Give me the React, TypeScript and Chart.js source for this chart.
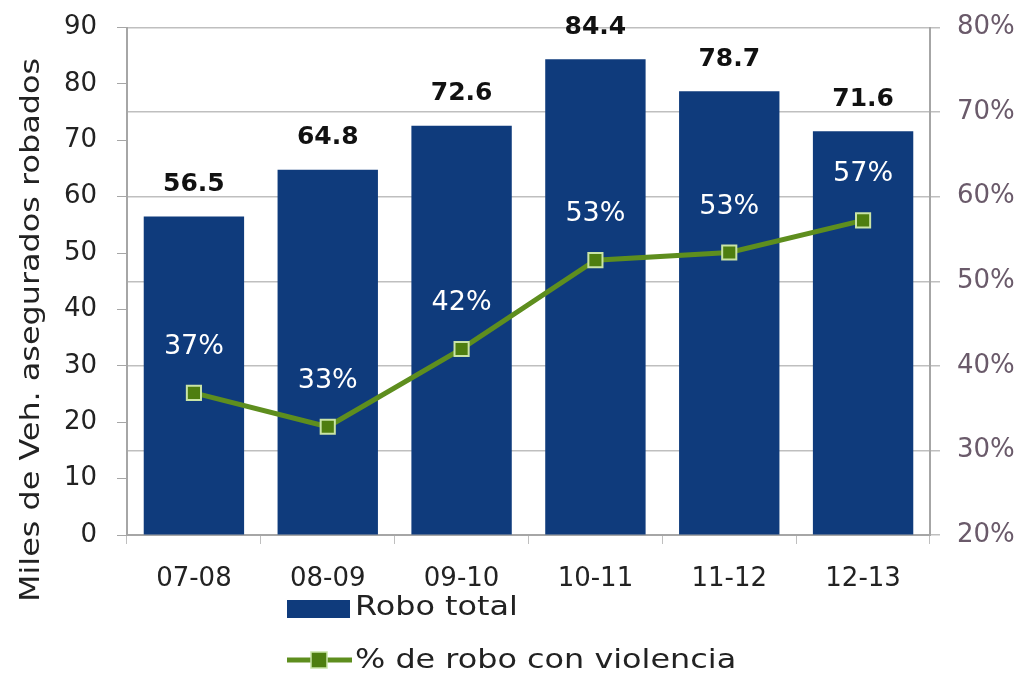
import React, { useEffect, useRef } from "react";
import { Chart, registerables } from "chart.js";

Chart.register(...registerables);

const categories = ["07-08", "08-09", "09-10", "10-11", "11-12", "12-13"];
const roboTotal = [56.5, 64.8, 72.6, 84.4, 78.7, 71.6];
const roboTotalLabels = ["56.5", "64.8", "72.6", "84.4", "78.7", "71.6"];
const pctViolencia = [36.8, 32.8, 42.0, 52.5, 53.4, 57.2];
const pctLabels = ["37%", "33%", "42%", "53%", "53%", "57%"];
const leftTicks = [0, 10, 20, 30, 40, 50, 60, 70, 80, 90];
const rightTicks = [20, 30, 40, 50, 60, 70, 80];

const FONT = "'DejaVu Sans', sans-serif";
const BAR_COLOR = "#0F3B7C";
const LINE_COLOR = "#5E8E1E";
const MARKER_FILL = "#4E7E10";
const MARKER_BORDER = "#C9E4A6";
const GRID = "#BFBFBF";
const STRETCH = 1.18;
const SHIFT = 8; // canvas is shifted up by this many px

function wideText(ctx: any, text: string, x: number, y: number, align: string) {
  ctx.save();
  ctx.translate(x, y);
  ctx.scale(STRETCH, 1);
  ctx.textAlign = align;
  ctx.fillText(text, 0, 0);
  ctx.restore();
}

const labelsPlugin = {
  id: "customLabels",
  afterDatasetsDraw(chart: any) {
    const ctx = chart.ctx;
    const barMeta = chart.getDatasetMeta(0);
    const lineMeta = chart.getDatasetMeta(1);
    ctx.save();
    ctx.textAlign = "center";
    ctx.textBaseline = "middle";
    ctx.font = `bold 25px ${FONT}`;
    ctx.fillStyle = "#111";
    barMeta.data.forEach((el: any, i: number) => {
      ctx.fillText(roboTotalLabels[i], el.x, el.y - 32);
    });
    ctx.font = `27px ${FONT}`;
    ctx.fillStyle = "#FFFFFF";
    lineMeta.data.forEach((el: any, i: number) => {
      ctx.fillText(pctLabels[i], el.x, el.y - 46);
    });
    ctx.restore();
  },
  afterDraw(chart: any) {
    const ctx = chart.ctx;
    ctx.save();
    // y axis title
    ctx.translate(32, 330 + SHIFT);
    ctx.rotate(-Math.PI / 2);
    ctx.textBaseline = "middle";
    ctx.font = `27px ${FONT}`;
    ctx.fillStyle = "#222";
    wideText(ctx, "Miles de Veh. asegurados robados", 0, 0, "center");
    ctx.restore();

    ctx.save();
    // legend row 1
    ctx.fillStyle = BAR_COLOR;
    ctx.fillRect(287, 600 + SHIFT, 63, 18);
    ctx.font = `27px ${FONT}`;
    ctx.fillStyle = "#222";
    ctx.textBaseline = "middle";
    wideText(ctx, chart.data.datasets[0].label, 355, 608 + SHIFT, "left");
    // legend row 2
    ctx.strokeStyle = LINE_COLOR;
    ctx.lineWidth = 5;
    ctx.beginPath();
    ctx.moveTo(287, 660 + SHIFT);
    ctx.lineTo(352, 660 + SHIFT);
    ctx.stroke();
    ctx.fillStyle = MARKER_FILL;
    ctx.fillRect(311, 652 + SHIFT, 16, 16);
    ctx.strokeStyle = MARKER_BORDER;
    ctx.lineWidth = 1.5;
    ctx.strokeRect(311, 652 + SHIFT, 16, 16);
    ctx.fillStyle = "#222";
    wideText(ctx, chart.data.datasets[1].label, 355, 661 + SHIFT, "left");
    ctx.restore();
  },
};

export default function App() {
  const ref = useRef<HTMLCanvasElement | null>(null);
  useEffect(() => {
    if (!ref.current) return;
    const chart = new Chart(ref.current, {
      type: "bar",
      data: {
        labels: categories,
        datasets: [
          {
            type: "bar",
            label: "Robo total",
            data: roboTotal,
            backgroundColor: BAR_COLOR,
            categoryPercentage: 0.75,
            barPercentage: 1,
            yAxisID: "y",
            order: 2,
          },
          {
            type: "line",
            label: "% de robo con violencia",
            data: pctViolencia,
            borderColor: LINE_COLOR,
            borderWidth: 5,
            pointStyle: "rect",
            pointRadius: 10,
            pointBackgroundColor: MARKER_FILL,
            pointBorderColor: MARKER_BORDER,
            pointBorderWidth: 2,
            tension: 0,
            yAxisID: "y1",
            order: 1,
          } as any,
        ],
      },
      options: {
        responsive: false,
        animation: false,
        layout: { autoPadding: false, padding: { top: 28, left: 0, right: 0, bottom: 0 } },
        plugins: {
          legend: { display: false },
          tooltip: { enabled: false },
        },
        scales: {
          x: {
            grid: {
              offset: true,
              drawOnChartArea: false,
              drawTicks: true,
              tickLength: 9,
              color: GRID,
            },
            border: { display: true, color: "#A6A6A6", width: 2 },
            ticks: {
              color: "#222",
              font: { family: FONT, size: 26 },
              padding: 20,
            },
            afterFit(scale: any) {
              scale.height = 140;
            },
          },
          y: {
            position: "left",
            min: 0,
            max: 90,
            afterBuildTicks(scale: any) {
              scale.ticks = leftTicks.map((v) => ({ value: v }));
            },
            grid: {
              drawOnChartArea: false,
              tickLength: 10,
              color: "#A6A6A6",
            },
            border: { display: true, color: "#A6A6A6", width: 2 },
            ticks: {
              color: "#222",
              font: { family: FONT, size: 26 },
              padding: 20,
            },
            afterFit(scale: any) {
              scale.width = 127;
            },
          },
          y1: {
            position: "right",
            min: 20,
            max: 80,
            afterBuildTicks(scale: any) {
              scale.ticks = rightTicks.map((v) => ({ value: v }));
            },
            grid: {
              drawOnChartArea: true,
              tickLength: 10,
              color: GRID,
              lineWidth: 1.5,
            },
            border: { display: true, color: "#A6A6A6", width: 2 },
            ticks: {
              color: "#6A5A6A",
              font: { family: FONT, size: 26 },
              padding: 17,
              callback: (v: any) => `${v}%`,
            },
            afterFit(scale: any) {
              scale.width = 94;
            },
          },
        },
      },
      plugins: [labelsPlugin],
    });
    return () => chart.destroy();
  }, []);
  return (
    <div style={{ position: "fixed", left: 0, top: 0, width: 1024, height: 675, background: "#fff", overflow: "hidden" }}>
      <canvas
        ref={ref}
        width={1024}
        height={675 + SHIFT}
        style={{ position: "absolute", left: 0, top: -SHIFT, width: 1024, height: 675 + SHIFT }}
      />
    </div>
  );
}
